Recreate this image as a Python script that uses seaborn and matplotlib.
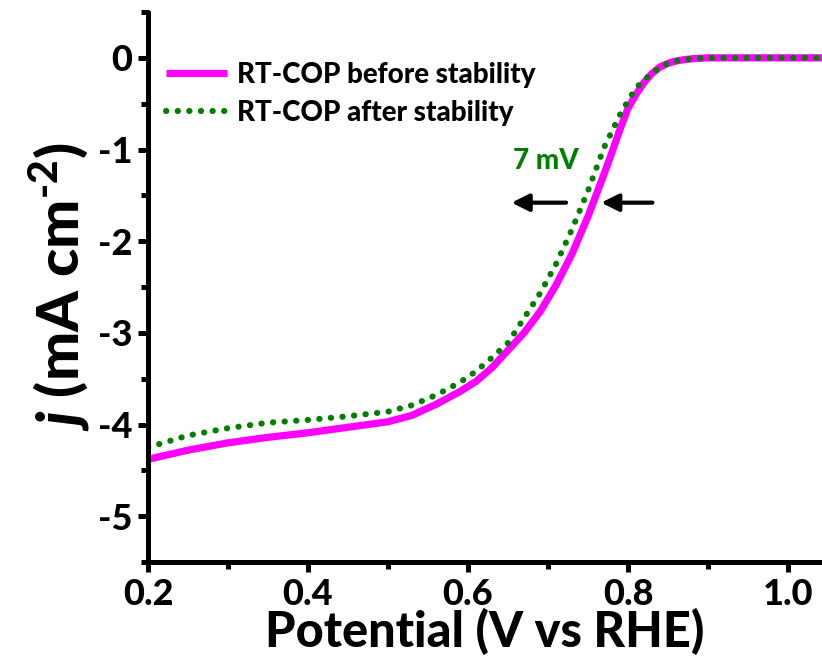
import matplotlib
matplotlib.use("Agg")
import matplotlib.pyplot as plt
import seaborn as sns
import pandas as pd
from matplotlib.ticker import MultipleLocator

# ---- data ----
potential = [0.20, 0.25, 0.30, 0.35, 0.40, 0.45, 0.50, 0.53, 0.56, 0.59, 0.61,
             0.63, 0.65, 0.67, 0.69, 0.71, 0.73, 0.75, 0.77, 0.78, 0.79, 0.80,
             0.81, 0.82, 0.83, 0.84, 0.85, 0.86, 0.87, 0.88, 0.90, 0.95, 1.00, 1.05]
j_before = [-4.38, -4.28, -4.20, -4.14, -4.09, -4.03, -3.97, -3.90, -3.78, -3.64, -3.53,
            -3.38, -3.19, -3.00, -2.77, -2.48, -2.14, -1.73, -1.27, -1.03, -0.78, -0.55,
            -0.40, -0.27, -0.17, -0.10, -0.06, -0.035, -0.02, -0.01, 0.00, 0.00, 0.00, 0.00]
j_after = [-4.25, -4.12, -4.04, -3.98, -3.95, -3.91, -3.86, -3.79, -3.68, -3.54, -3.42,
           -3.27, -3.11, -2.84, -2.57, -2.25, -1.87, -1.45, -0.98, -0.80, -0.62, -0.47,
           -0.33, -0.24, -0.17, -0.10, -0.06, -0.035, -0.02, -0.01, 0.00, 0.00, 0.00, 0.00]
labels = ["RT-COP before stability", "RT-COP after stability"]
x_ticks = [0.2, 0.4, 0.6, 0.8, 1.0]
x_ticklabels = ["0.2", "0.4", "0.6", "0.8", "1.0"]
y_ticks = [0, -1, -2, -3, -4, -5]
y_ticklabels = ["0", "-1", "-2", "-3", "-4", "-5"]

sns.set_style("ticks", {"axes.edgecolor": "black", "xtick.color": "black",
                        "ytick.color": "black", "text.color": "black",
                        "axes.labelcolor": "black"})
FONT = "Lato"
W = "black"
plt.rcParams["font.family"] = [FONT, "DejaVu Sans"]
plt.rcParams["font.weight"] = W
plt.rcParams["axes.unicode_minus"] = False
plt.rcParams["mathtext.fontset"] = "custom"
plt.rcParams["mathtext.rm"] = f"{FONT}:black"
plt.rcParams["mathtext.it"] = f"{FONT}:italic:black"
plt.rcParams["mathtext.bf"] = f"{FONT}:black"

fig = plt.figure(figsize=(8.22, 6.68), dpi=100)
ax = fig.add_axes([148/822, 1 - 562/668, 1 - 148/822, (562 - 12)/668])

df_b = pd.DataFrame({"x": potential, "y": j_before})
df_a = pd.DataFrame({"x": potential, "y": j_after})

sns.lineplot(data=df_b, x="x", y="y", ax=ax, color="#FF00FF", linewidth=5.2,
             label=labels[0], solid_capstyle="butt")
sns.lineplot(data=df_a, x="x", y="y", ax=ax, color="#008000", linewidth=4.4,
             label=labels[1])
dot = ax.lines[-1]
dot.set_dashes((0.05, 1.85))
dot.set_dash_capstyle("round")

ax.set_xlim(0.2, 1.0425)
ax.set_ylim(-5.5, 0.5)
ax.set_xticks(x_ticks)
ax.set_xticklabels(x_ticklabels)
ax.set_yticks(y_ticks)
ax.set_yticklabels(y_ticklabels)
ax.xaxis.set_minor_locator(MultipleLocator(0.1))
ax.yaxis.set_minor_locator(MultipleLocator(0.5))

for s in ["top", "right"]:
    ax.spines[s].set_visible(False)
for s in ["left", "bottom"]:
    ax.spines[s].set_linewidth(3.6)
    ax.spines[s].set_capstyle("round")

ax.tick_params(which="major", length=7.5, width=3.6, direction="out", labelsize=26, pad=4)
ax.tick_params(which="minor", length=5, width=3.6, direction="out")
for lab in ax.get_xticklabels() + ax.get_yticklabels():
    lab.set_fontweight(W)

ax.set_xlabel("Potential (V vs RHE)", fontsize=35, fontweight=W, labelpad=-2)
ax.set_ylabel("$j$ (mA cm$^{\u2010\\mathrm{2}}$)", fontsize=42, fontweight=W, labelpad=4)

leg = ax.legend(loc="upper left", bbox_to_anchor=(-0.002, 0.945), frameon=False,
                fontsize=20, handlelength=2.2, handletextpad=0.36, labelspacing=0.45,
                borderaxespad=0.3)
for t in leg.get_texts():
    t.set_fontweight(W)

# 7 mV annotation
ax.text(0.697, -1.13, "7 mV", color="#008000", fontsize=20, fontweight=W,
        ha="center", va="center")
ax.annotate("", xy=(0.651, -1.58), xytext=(0.726, -1.58),
            arrowprops=dict(arrowstyle="-|>", color="black", lw=3.0, mutation_scale=26))
ax.annotate("", xy=(0.763, -1.58), xytext=(0.834, -1.58),
            arrowprops=dict(arrowstyle="-|>", color="black", lw=3.0, mutation_scale=26))

fig.savefig("out.png", dpi=100)
